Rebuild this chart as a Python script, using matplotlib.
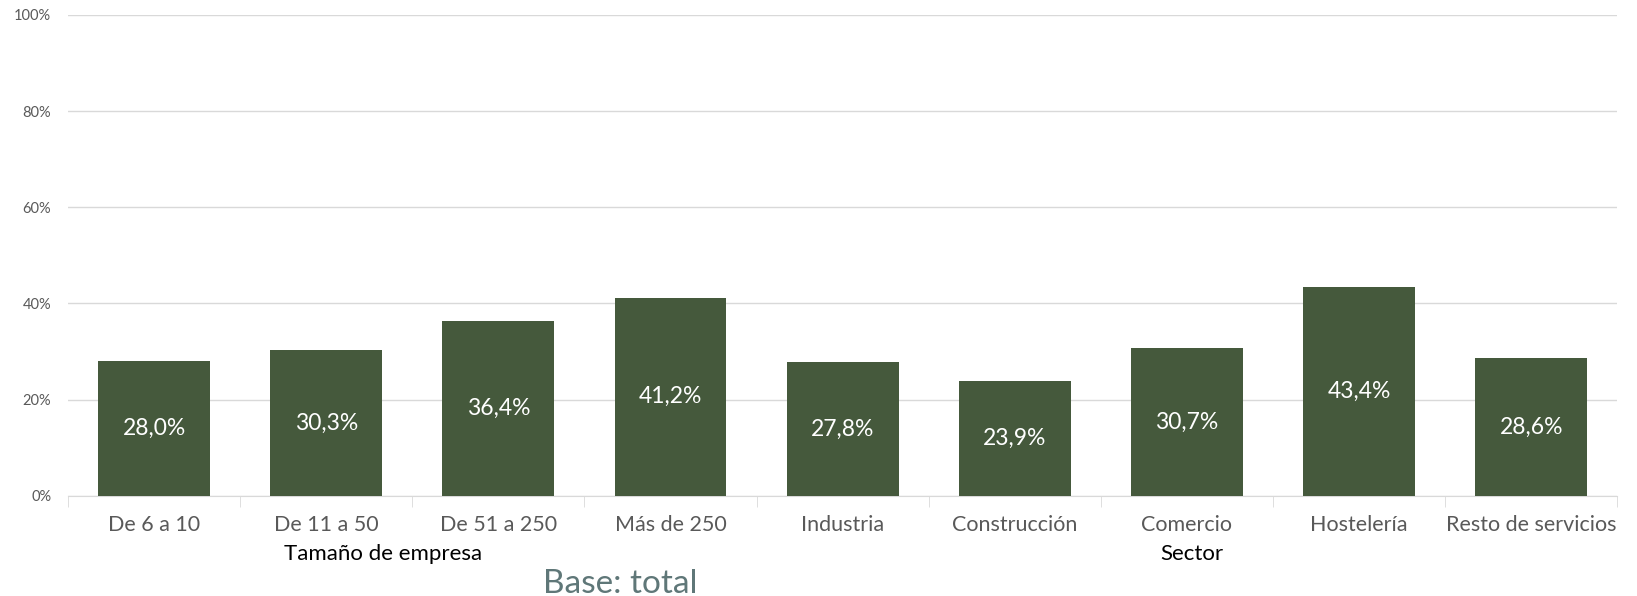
import matplotlib
matplotlib.use("Agg")
import matplotlib.pyplot as plt
from matplotlib.ticker import FixedLocator, PercentFormatter

categorias = ["De 6 a 10", "De 11 a 50", "De 51 a 250", "Más de 250",
              "Industria", "Construcción", "Comercio", "Hostelería",
              "Resto de servicios"]
valores = [28.0, 30.3, 36.4, 41.2, 27.8, 23.9, 30.7, 43.4, 28.6]
grupos = ["Tamaño de empresa", "Sector"]
grupos_pos = [1.33, 6.03]

plt.rcParams['font.family'] = ['Lato', 'DejaVu Sans']

fig = plt.figure(figsize=(16.37, 5.96), dpi=100)
ax = fig.add_axes([0.0415, 0.168, 0.9465, 0.807])

x = range(len(categorias))
ax.bar(x, valores, width=0.65, color="#45593c", zorder=3)
for i, v in zip(x, valores):
    ax.text(i, v / 2, f"{v:.1f}%".replace(".", ","), ha="center", va="center",
            color="white", fontsize=16.5, zorder=4)

ax.set_xlim(-0.5, len(categorias) - 0.5)
ax.set_ylim(0, 100)
ax.set_yticks([0, 20, 40, 60, 80, 100])
ax.yaxis.set_major_formatter(PercentFormatter(decimals=0))
ax.grid(axis="y", color="#d9d9d9", linewidth=1, zorder=0)
ax.tick_params(axis="y", length=0, labelsize=10.5, labelcolor="#595959", pad=12)

ax.set_xticks(list(x))
ax.set_xticklabels(categorias)
ax.xaxis.set_minor_locator(FixedLocator([i - 0.5 for i in range(len(categorias) + 1)]))
ax.tick_params(axis="x", which="major", length=0, labelsize=15.5,
               labelcolor="#595959", pad=14)
ax.tick_params(axis="x", which="minor", length=8, color="#d9d9d9")

for s in ["left", "right", "top"]:
    ax.spines[s].set_visible(False)
ax.spines["bottom"].set_color("#d9d9d9")

for g, p in zip(grupos, grupos_pos):
    ax.text(p, -12.0, g, ha="center", va="center", fontsize=16, color="black")

fig.text(0.379, 0.02, "Base: total", ha="center", va="center",
         fontsize=24, color="#5f7778")

fig.savefig("out.png", dpi=100)
